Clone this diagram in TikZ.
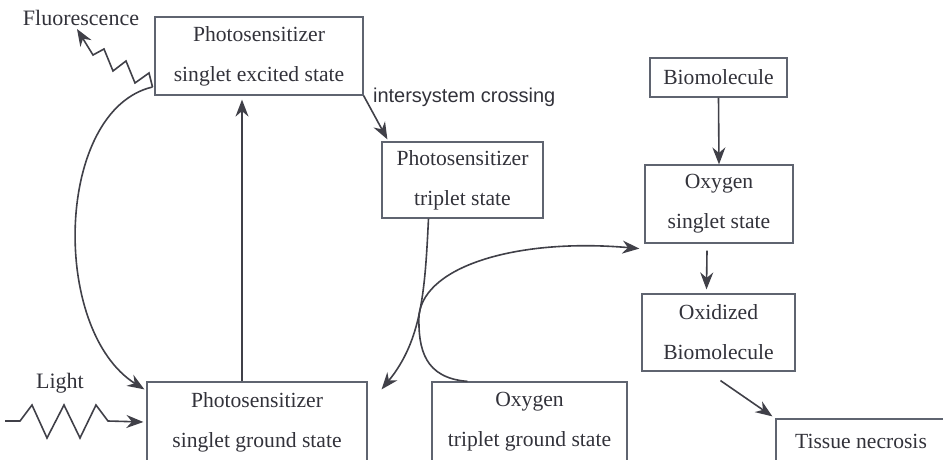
\documentclass[tikz,border=0pt]{standalone}
\usepackage{fontspec}
\setmainfont{Liberation Serif}
\newfontfamily\labelsans{Liberation Sans}
\usetikzlibrary{arrows.meta}
\definecolor{linegray}{RGB}{64,64,72}
\definecolor{boxgray}{RGB}{95,100,112}
\definecolor{textgray}{RGB}{50,50,58}

\begin{document}
\begin{tikzpicture}[x=0.5pt,y=-0.5pt,
  statebox/.style={draw=boxgray,semithick,align=center,text=textgray,
    font=\fontsize{10.8}{20}\selectfont,inner sep=0pt},
  flow/.style={draw=linegray,thick,->,>={Stealth[length=8.5pt,width=6.5pt]}}]
 \useasboundingbox (0,0) rectangle (943,460);
 \node[statebox,minimum width=104pt,minimum height=39pt] (exc) at (259,56)
   {Photosensitizer\\singlet excited state}; %一重項励起状態
 \node[statebox,minimum width=80.5pt,minimum height=38pt] (trip) at (462.5,180)
   {Photosensitizer\\triplet state};
 \node[statebox,minimum width=110pt,minimum height=40pt] (gnd) at (257,422)
   {Photosensitizer\\singlet ground state}; %基底状態
 \node[statebox,minimum width=97.5pt,minimum height=40pt] (otrip) at (529.5,422)
   {Oxygen\\triplet ground state};
 \node[statebox,minimum width=68.5pt,minimum height=19.5pt] (bio) at (718.5,77.5)
   {Biomolecule};
 \node[statebox,minimum width=74pt,minimum height=39pt] (osing) at (719,204)
   {Oxygen\\singlet state}; %一重項酸素
 \node[statebox,minimum width=76.5pt,minimum height=38.5pt] (oxid) at (718.5,332.5)
   {Oxidized\\Biomolecule};
 \node[statebox,minimum width=85pt,minimum height=22pt] (tissue) at (861,441)
   {Tissue necrosis};
 \node[text=textgray,font=\fontsize{11}{13}\selectfont] (fluo) at (81,18) {Fluorescence};
 \node[text=textgray,font=\fontsize{11}{13}\selectfont] (light) at (60,383) {Light};
 \node[text=textgray,font=\labelsans\fontsize{10}{12}\selectfont,anchor=west]
   (isc) at (366,97) {intersystem crossing};
 \coordinate (fluoS) at (152.5,87);
 \coordinate (lightS) at (5,421);
 % 蛍光・光
 \draw[flow] (fluoS)--(149,73)--(135,83)--(126,61)--(113,71)--(104,49)--(93,55)--(77,29);
 \draw[flow] (lightS)--(20,421)--(32,405)--(47,438)--(64,405)--(80,438)--(96,405)--(108,421)
   --([xshift=-1.5pt]gnd.west);
 % 励起・失活
 \draw[flow] ([xshift=-7.5pt]gnd.north)--([xshift=-8.5pt,yshift=-2pt]exc.south);
 \draw[flow] (fluoS) .. controls (55,110) and (50,330) .. ([xshift=-1pt,yshift=-4pt]gnd.north west);
 \draw[flow] (exc.south east)--([xshift=3pt,yshift=1pt]trip.north west);
 % 三重項 -> 一重項酸素
 \draw[flow] ([xshift=-17pt]trip.south) .. controls (425,290) and (422,340) .. ([xshift=7pt,yshift=-4pt]gnd.north east);
 \draw[flow] ([xshift=-31pt]otrip.north) .. controls (425,378) and (418,350) .. (419,315)
   .. controls (425,265) and (520,238) .. ([xshift=-2.5pt,yshift=-2.5pt]osing.south west);
 % 酸化
 \draw[flow] (bio.south)--(osing.north);
 \draw[flow] ([xshift=-6pt,yshift=-3.5pt]osing.south)--([xshift=-6pt,yshift=2pt]oxid.north);
 \draw[flow] ([xshift=1pt,yshift=-4.5pt]oxid.south)--([xshift=-1.5pt,yshift=1pt]tissue.north west);
\end{tikzpicture}
\end{document}
